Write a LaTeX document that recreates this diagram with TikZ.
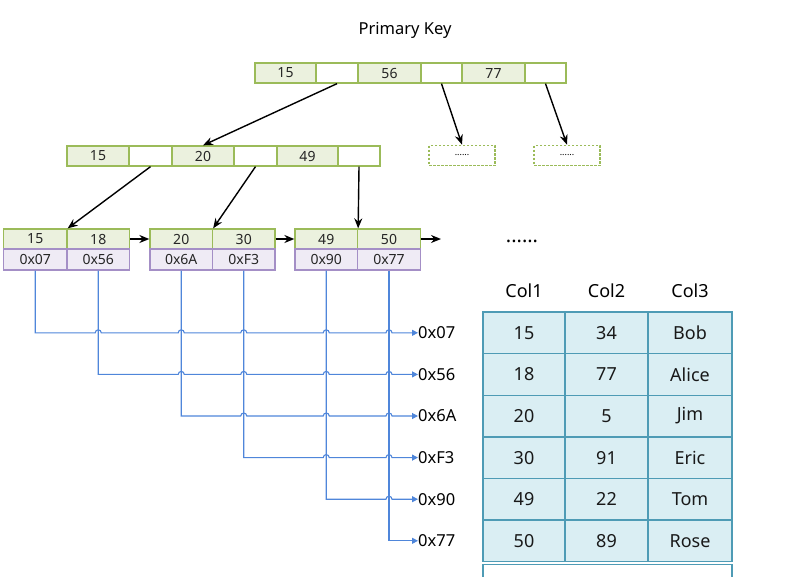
\documentclass[tikz,border=0pt]{standalone}
\usepackage{fontspec}
\setmainfont{Noto Sans}
\usetikzlibrary{arrows.meta}
\definecolor{gb}{HTML}{9BBB59}
\definecolor{gf}{HTML}{EBF1DE}
\definecolor{pb}{HTML}{A48FC6}
\definecolor{pf}{HTML}{EFEBF5}
\definecolor{bl}{HTML}{4F86DA}
\definecolor{tf}{HTML}{DAEEF3}
\definecolor{tb}{HTML}{4E9BB5}
\tikzset{
  gcell/.style={draw=gb,fill=gf,line width=1.3pt,inner sep=0pt,minimum height=20pt,font=\fontsize{14}{16}\selectfont,text=black!85},
  ecell/.style={gcell,fill=white},
  pcell/.style={draw=pb,fill=pf,line width=1.3pt,inner sep=0pt,minimum height=21pt,font=\fontsize{14}{16}\selectfont,text=black!85},
  dbox/.style={draw=gb,dash pattern=on 2.5pt off 1.5pt,line width=1.6pt,inner sep=0pt,minimum height=20pt,minimum width=66pt,font=\fontsize{9}{10}\selectfont},
  arr/.style={-{Stealth[length=10pt,width=8pt]},line width=1.4pt,black},
  ptr/.style={-{Triangle[length=6pt,width=6pt]},line width=1.1pt,bl},
  plab/.style={anchor=west,inner sep=0pt,font=\fontsize{16.5}{18}\selectfont},
  tcell/.style={draw=tb,fill=tf,line width=1.4pt,inner sep=0pt,minimum height=41.6pt,font=\fontsize{18}{20}\selectfont,text=black!90},
  thead/.style={inner sep=0pt,font=\fontsize{18}{20}\selectfont},
}
\begin{document}
\begin{tikzpicture}[x=1pt,y=-1pt]
\useasboundingbox (0,0) rectangle (795,576);
\clip (0,0) rectangle (795,576);
% title
\node[inner sep=0pt,font=\fontsize{16.5}{18}\selectfont] (title) at (405,30) {Primary Key};
% root
\node[gcell,minimum width=61pt] (r1) at (285.5,73) {15};
\node[ecell,minimum width=42pt] (r2) at (337,73) {};
\node[gcell,minimum width=63pt] (r3) at (389.5,73) {56};
\node[ecell,minimum width=41pt] (r4) at (441.5,73) {};
\node[gcell,minimum width=63pt] (r5) at (493.5,73) {77};
\node[ecell,minimum width=41pt] (r6) at (545.5,73) {};
% level 2
\node[gcell,minimum width=62pt] (m1) at (98,156) {15};
\node[ecell,minimum width=43pt] (m2) at (150.5,156) {};
\node[gcell,minimum width=62pt] (m3) at (203,156) {20};
\node[ecell,minimum width=43pt] (m4) at (255.5,156) {};
\node[gcell,minimum width=61pt] (m5) at (307.5,156) {49};
\node[ecell,minimum width=42pt] (m6) at (359,156) {};
% dashed boxes
\node[dbox] (d1) at (462,155.5) {......};
\node[dbox] (d2) at (567,155.5) {......};
% leaves
\node[gcell,minimum width=63.5pt] (a1) at (35.25,239) {15};
\node[gcell,minimum width=62.5pt] (a2) at (98.25,239) {18};
\node[pcell,minimum width=63.5pt] (a3) at (35.25,259.5) {0x07};
\node[pcell,minimum width=62.5pt] (a4) at (98.25,259.5) {0x56};
\node[gcell,minimum width=62.5pt] (b1) at (181.25,239) {20};
\node[gcell,minimum width=62.5pt] (b2) at (243.75,239) {30};
\node[pcell,minimum width=62.5pt] (b3) at (181.25,259.5) {0x6A};
\node[pcell,minimum width=62.5pt] (b4) at (243.75,259.5) {0xF3};
\node[gcell,minimum width=62.5pt] (c1) at (326.25,239) {49};
\node[gcell,minimum width=63pt] (c2) at (389,239) {50};
\node[pcell,minimum width=62.5pt] (c3) at (326.25,259.5) {0x90};
\node[pcell,minimum width=63pt] (c4) at (389,259.5) {0x77};
\coordinate (cend) at (441,239);
% tree arrows
\draw[arr] (r2.south) -- (m3.north);
\draw[arr] (r4.south) -- (d1.north);
\draw[arr] (r6.south) -- (d2.north);
\draw[arr] (m2.south) -- (a1.north east);
\draw[arr] (m4.south) -- (b1.north east);
\draw[arr] (m6.south) -- (c1.north east);
\draw[arr] (a2.east) -- (b1.west);
\draw[arr] (b2.east) -- (c1.west);
\draw[arr] (c2.east) -- (cend);
% dots
\node[inner sep=0pt,font=\fontsize{20}{22}\selectfont\bfseries] (dots) at (522,241) {......};
% pointer labels
\node[plab] (p1) at (418,332.8) {0x07};
\node[plab] (p2) at (418,374.4) {0x56};
\node[plab] (p3) at (418,416.0) {0x6A};
\node[plab] (p4) at (418,457.6) {0xF3};
\node[plab] (p5) at (418,499.2) {0x90};
\node[plab] (p6) at (418,540.8) {0x77};
% pointer lines with bumps
\draw[ptr] (a3.south) -- (a3.south |- p1.west)
  foreach \c in {a4,b3,b4,c3,c4}{ -- ([xshift=-3pt]\c.south |- p1.west) arc[start angle=180,end angle=0,radius=3pt] } -- (p1.west);
\draw[ptr] (a4.south) -- (a4.south |- p2.west)
  foreach \c in {b3,b4,c3,c4}{ -- ([xshift=-3pt]\c.south |- p2.west) arc[start angle=180,end angle=0,radius=3pt] } -- (p2.west);
\draw[ptr] (b3.south) -- (b3.south |- p3.west)
  foreach \c in {b4,c3,c4}{ -- ([xshift=-3pt]\c.south |- p3.west) arc[start angle=180,end angle=0,radius=3pt] } -- (p3.west);
\draw[ptr] (b4.south) -- (b4.south |- p4.west)
  foreach \c in {c3,c4}{ -- ([xshift=-3pt]\c.south |- p4.west) arc[start angle=180,end angle=0,radius=3pt] } -- (p4.west);
\draw[ptr] (c3.south) -- (c3.south |- p5.west)
  foreach \c in {c4}{ -- ([xshift=-3pt]\c.south |- p5.west) arc[start angle=180,end angle=0,radius=3pt] } -- (p5.west);
\draw[ptr] (c4.south) -- (c4.south |- p6.west) -- (p6.west);
% table header
\node[thead] (h1) at (524,291) {Col1};
\node[thead] (h2) at (606.5,291) {Col2};
\node[thead] (h3) at (690,291) {Col3};
% table
\foreach \r/\a/\b/\cc [count=\i] in {15/34/Bob,18/77/Alice,20/5/Jim,30/91/Eric,49/22/Tom,50/89/Rose}{
  \node[tcell,minimum width=82pt] (t\i a) at (524,{312+41.6*(\i-0.5)}) {\r};
  \node[tcell,minimum width=83pt] (t\i b) at (606.5,{312+41.6*(\i-0.5)}) {\a};
  \node[tcell,minimum width=84pt] (t\i c) at (690,{312+41.6*(\i-0.5)}) {\cc};
}
\draw[draw=tb,line width=1.4pt,fill=white] (483,564.5) rectangle (732,590);
\end{tikzpicture}
\end{document}
